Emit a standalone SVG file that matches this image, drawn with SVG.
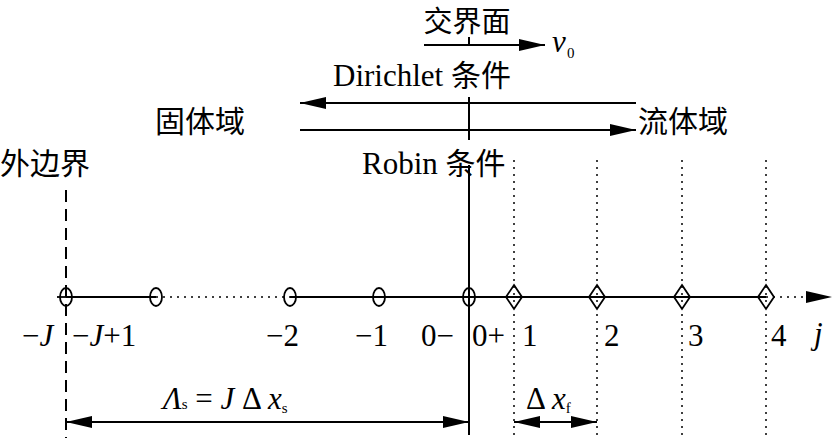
<svg xmlns="http://www.w3.org/2000/svg" width="838" height="438" viewBox="0 0 838 438">
<style>
.t{font-family:"Liberation Serif","Noto Sans CJK SC",serif;font-size:31px;fill:#000}
.c{font-family:"Noto Sans CJK SC",serif;font-size:30px;fill:#000}
.i{font-style:italic}
.s{font-size:15px}
.l{stroke:#000;stroke-width:2;fill:none}
.d{stroke:#000;stroke-width:1.5;stroke-dasharray:2,5;fill:none}
.n{stroke:#000;stroke-width:1.8;fill:none}
</style>
<defs>
<marker id="b" viewBox="0 0 26 12" refX="26" refY="6" markerWidth="26" markerHeight="12" markerUnits="userSpaceOnUse" orient="auto-start-reverse"><path d="M0,0L26,6L0,12z"/></marker>
</defs>
<g id="connectors">
<line class="l" x1="424" y1="45" x2="545" y2="45" marker-end="url(#b)"/>
<line class="l" x1="469" y1="37" x2="469" y2="45"/>
<line class="l" x1="636" y1="103" x2="300" y2="103" marker-end="url(#b)"/>
<line class="l" x1="300" y1="130" x2="636" y2="130" marker-end="url(#b)"/>
<line class="l" x1="469" y1="97" x2="469" y2="140"/>
<line class="l" x1="469" y1="165" x2="469" y2="435"/>
<line x1="66" y1="190" x2="66" y2="438" stroke="#000" stroke-width="2" stroke-dasharray="12,7"/>
<line class="d" x1="514" y1="160" x2="514" y2="438"/>
<line class="d" x1="597" y1="160" x2="597" y2="438"/>
<line class="d" x1="682" y1="160" x2="682" y2="438"/>
<line class="d" x1="766" y1="160" x2="766" y2="438"/>
<line class="l" x1="66" y1="297" x2="156" y2="297"/>
<line class="d" x1="156" y1="297" x2="290" y2="297"/>
<line class="l" x1="290" y1="297" x2="766" y2="297"/>
<line class="d" x1="766" y1="297" x2="808" y2="297"/>
<line x1="805" y1="297" x2="832" y2="297" stroke="#000" stroke-width="0" marker-end="url(#b)"/>
<line class="l" x1="66" y1="422" x2="469" y2="422" marker-start="url(#b)" marker-end="url(#b)"/>
<line class="l" x1="514" y1="422" x2="597" y2="422" marker-start="url(#b)" marker-end="url(#b)"/>
</g>
<g id="nodes">
<g id="n-J"><ellipse class="n" cx="66" cy="297" rx="6" ry="9"/><line class="n" x1="57" y1="297" x2="75" y2="297"/></g>
<g id="n-J1"><ellipse class="n" cx="156" cy="297" rx="6" ry="9"/></g>
<g id="n-2"><ellipse class="n" cx="290" cy="297" rx="6" ry="9"/></g>
<g id="n-1"><ellipse class="n" cx="379" cy="297" rx="6" ry="9"/></g>
<g id="n0"><ellipse class="n" cx="469" cy="297" rx="6" ry="9"/></g>
<g id="f1"><path class="n" d="M514,285L522,297L514,309L506,297Z"/></g>
<g id="f2"><path class="n" d="M597,285L605,297L597,309L589,297Z"/></g>
<g id="f3"><path class="n" d="M682,285L690,297L682,309L674,297Z"/></g>
<g id="f4"><path class="n" d="M766,285L774,297L766,309L758,297Z"/></g>
</g>
<g id="labels">
<text class="c" x="467" y="32" text-anchor="middle" style="font-size:29px">交界面</text>
<text class="t i" x="552" y="52">v</text><text class="t s" x="567" y="58">0</text>
<text class="t" x="333" y="86">Dirichlet <tspan class="c">条件</tspan></text>
<text class="c" x="155" y="132">固体域</text>
<text class="c" x="638" y="132">流体域</text>
<text class="c" x="0" y="174">外边界</text>
<text class="t" x="362" y="174">Robin <tspan class="c">条件</tspan></text>
<text class="t" x="22" y="346">−<tspan class="i">J</tspan></text>
<text class="t" x="72" y="346">−<tspan class="i">J</tspan>+1</text>
<text class="t" x="266" y="346">−2</text>
<text class="t" x="355" y="346">−1</text>
<text class="t" x="421" y="346">0−</text>
<text class="t" x="472" y="346">0+</text>
<text class="t" x="522" y="346">1</text>
<text class="t" x="604" y="346">2</text>
<text class="t" x="688" y="346">3</text>
<text class="t" x="771" y="346">4</text>
<text class="t i" x="814" y="344">j</text>
<text class="t" x="163" y="409"><tspan class="i">Λ</tspan><tspan class="s">s</tspan> = <tspan class="i">J</tspan> Δ <tspan class="i">x</tspan><tspan class="s" dy="4">s</tspan></text>
<text class="t" x="526" y="409">Δ <tspan class="i">x</tspan><tspan class="s" dy="4">f</tspan></text>
</g>
</svg>
